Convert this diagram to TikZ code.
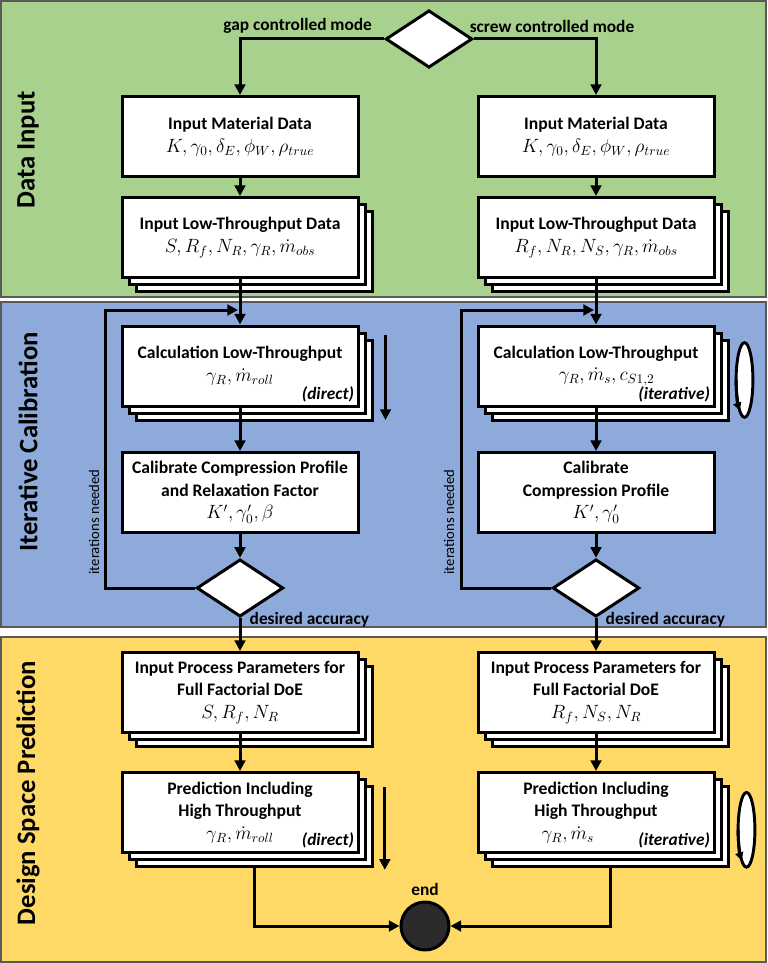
\documentclass[tikz,border=0pt]{standalone}
\usepackage{fontspec}
\setmainfont{Carlito}
\usetikzlibrary{shapes.geometric,shadows,arrows.meta}
\definecolor{inputgreen}{HTML}{A9D18E}
\definecolor{calibblue}{HTML}{8EAADB}
\definecolor{predyellow}{HTML}{FFD966}
\definecolor{bandline}{HTML}{595959}
\definecolor{endgray}{HTML}{2B2B2B}
\newcommand{\vars}[1]{{\fontsize{14.5}{17}\selectfont$#1$}}
\tikzset{
  arr/.style={line width=2.25pt, -{Triangle[length=8pt,width=8pt]}},
  procbox/.style={draw=black, fill=white, line width=2.25pt, minimum width=177pt,
    minimum height=60pt, align=center, inner sep=2pt,
    font=\fontsize{13.2}{17}\selectfont\bfseries},
  stackbox/.style={procbox,
    copy shadow={shadow xshift=10.5pt, shadow yshift=-10.5pt, draw=black, fill=white, line width=2.25pt},
    copy shadow={shadow xshift=5.25pt, shadow yshift=-5.25pt, draw=black, fill=white, line width=2.25pt}},
  decision/.style={diamond, draw=black, fill=white, line width=2.25pt, aspect=1.5,
    minimum width=65pt, minimum height=43pt, inner sep=0pt},
  endnode/.style={circle, draw=black, fill=endgray, line width=2.25pt, minimum size=36pt},
  band/.style={draw=bandline, line width=1.2pt},
  bandlabel/.style={rotate=90, font=\fontsize{20}{24}\selectfont\bfseries},
  flowlabel/.style={font=\fontsize{13}{15}\selectfont\bfseries},
  itlabel/.style={rotate=90, font=\fontsize{11}{13}\selectfont},
  modelabel/.style={anchor=south east, inner sep=1pt, font=\fontsize{13}{15}\selectfont\bfseries\itshape},
}
\newcommand{\cycleicon}[1]{%
  \draw[line width=2.2pt, fill=white] (#1) ellipse [x radius=6.3pt, y radius=28pt];
  \draw[line width=2.2pt, -{Triangle[length=6pt,width=6pt]}] (#1) ++(180:6.3pt and 28pt)
    arc[start angle=180, end angle=235, x radius=6.3pt, y radius=28pt];
}
\begin{document}
\begin{tikzpicture}[x=0.75pt, y=-0.75pt]
\useasboundingbox (0,0) rectangle (767,963);
% bands
\draw[band, fill=inputgreen] (1,1) rectangle (766,297);
\draw[band, fill=calibblue] (1,302) rectangle (766,627);
\draw[band, fill=predyellow] (1,637) rectangle (766,962);
\node[bandlabel] at (28,150) {Data Input};
\node[bandlabel] at (28,442) {Iterative Calibration};
\node[bandlabel] at (28,793) {Design Space Prediction};
%
\node[decision] (mode) at (429,39) {};
% gap controlled mode
\node[procbox] (matL) at (240,136.5) {Input Material Data\\ \vars{K,\gamma_0,\delta_E,\phi_W,\rho_{true}}};
\node[stackbox] (lowL) at (240,237.5) {Input Low-Throughput Data\\ \vars{S,R_f,N_R,\gamma_R,\dot{m}_{obs}}};
\node[stackbox] (calcL) at (240,366) {Calculation Low-Throughput\\ \vars{\gamma_R,\dot{m}_{roll}}};
\node[procbox] (calibL) at (240,492.5) {Calibrate Compression Profile\\ and Relaxation Factor\\ \vars{K',\gamma_0',\beta}};
\node[decision] (decL) at (240,588) {};
\node[stackbox] (procL) at (240,692.5) {Input Process Parameters for\\ Full Factorial DoE\\ \vars{S,R_f,N_R}};
\node[stackbox] (predL) at (240,812.5) {Prediction Including\\ High Throughput\\ \vars{\gamma_R,\dot{m}_{roll}}};
\node[modelabel] at ([shift={(-3pt,3pt)}]calcL.south east) {(direct)};
\node[modelabel] at ([shift={(-3pt,3pt)}]predL.south east) {(direct)};
% screw controlled mode
\node[procbox] (matR) at (596,136.5) {Input Material Data\\ \vars{K,\gamma_0,\delta_E,\phi_W,\rho_{true}}};
\node[stackbox] (lowR) at (596,237.5) {Input Low-Throughput Data\\ \vars{R_f,N_R,N_S,\gamma_R,\dot{m}_{obs}}};
\node[stackbox] (calcR) at (596,366) {Calculation Low-Throughput\\ \hspace*{1.2em}\vars{\gamma_R,\dot{m}_s,c_{S1,2}}};
\node[procbox] (calibR) at (596,492.5) {Calibrate\\ Compression Profile\\ \vars{K',\gamma_0'}};
\node[decision] (decR) at (596,588) {};
\node[stackbox] (procR) at (596,692.5) {Input Process Parameters for\\ Full Factorial DoE\\ \vars{R_f,N_S,N_R}};
\node[stackbox] (predR) at (596,812.5) {Prediction Including\\ High Throughput\\ \vars{\gamma_R,\dot{m}_s}\hspace*{3.2em}};
\node[modelabel] at ([shift={(-3pt,3pt)}]calcR.south east) {(iterative)};
\node[modelabel] at ([shift={(-3pt,3pt)}]predR.south east) {(iterative)};
%
\node[endnode, label={[flowlabel]above:end}] (endc) at (425,926) {};
\coordinate (loopL) at (238,310);
\coordinate (loopR) at (594,310);
% connectors
\draw[arr] (mode.west) -| node[flowlabel, pos=0.3, above]{gap controlled mode} (matL.north);
\draw[arr] (mode.east) -| node[flowlabel, pos=0.32, above]{screw controlled mode} (matR.north);
\foreach \col in {L,R}{
  \draw[arr] (mat\col.south) -- (low\col.north);
  \draw[arr] (low\col.south) -- (calc\col.north);
  \draw[arr] (calc\col.south) -- (calib\col.north);
  \draw[arr] (calib\col.south) -- (dec\col.north);
  \draw[arr] (dec\col.south) -- (proc\col.north);
  \draw[arr] (proc\col.south) -- (pred\col.north);
  \draw[arr] (dec\col.west) -- ++(-90,0) |- (loop\col);
}
\node[flowlabel, anchor=west] at (245,620) {desired accuracy};
\node[flowlabel, anchor=west] at (601,620) {desired accuracy};
\node[itlabel] at (94,522) {iterations needed};
\node[itlabel] at (449,522) {iterations needed};
\draw[arr] ([shift={(10.5pt,-10.5pt)}]predL.south) |- (endc.west);
\draw[arr] ([shift={(10.5pt,-10.5pt)}]predR.south) |- (endc.east);
% direct / iterative marks
\draw[arr] ([shift={(19.5pt,23pt)}]calcL.east) -- ([shift={(19.5pt,-40.5pt)}]calcL.east);
\draw[arr] ([shift={(19pt,19pt)}]predL.east) -- ([shift={(19pt,-43pt)}]predL.east);
\cycleicon{[shift={(21.75pt,-10.5pt)}]calcR.east}
\cycleicon{[shift={(23.25pt,-13pt)}]predR.east}
\end{tikzpicture}
\end{document}
